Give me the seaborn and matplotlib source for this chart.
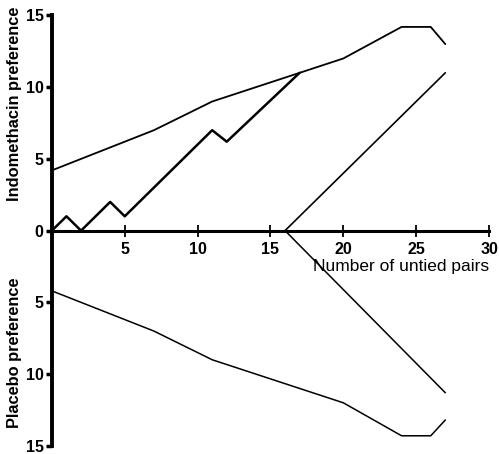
import numpy as np
import pandas as pd
import matplotlib
matplotlib.use("Agg")
import matplotlib.pyplot as plt
import seaborn as sns

# boundaries of the sequential design
bound_x = [0, 2, 7, 11, 17, 20, 24, 26, 27]
upper_y = [4.2, 5.0, 7, 9, 11, 12, 14.2, 14.2, 13]
lower_y = [-4.2, -5.0, -7, -9, -11, -12, -14.3, -14.3, -13.2]

# inner (no-difference) boundaries
inner_x = [16, 27]
inner_up = [0, 11]
inner_down = [0, -11.3]

# observed path of preferences
path_x = [0, 1, 2, 4, 5, 11, 12, 17]
path_y = [0, 1, 0, 2, 1, 7, 6.2, 11]

xticks = [5, 10, 15, 20, 25, 30]
yticks = [-10, -5, 0, 5, 10]

sns.set_theme(style="white")
plt.rcParams['font.family'] = ['Liberation Sans', 'DejaVu Sans']
plt.rcParams['text.color'] = 'black'
plt.rcParams['xtick.color'] = 'black'
plt.rcParams['ytick.color'] = 'black'
plt.rcParams['axes.edgecolor'] = 'black'

fig = plt.figure(figsize=(4.99, 4.54), dpi=100)
ax = fig.add_axes([0.104, 0.018, 0.876, 0.948])

def line(x, y, lw):
    d = pd.DataFrame({"x": x, "y": y})
    sns.lineplot(data=d, x="x", y="y", sort=False, color="black",
                 linewidth=lw, ax=ax, clip_on=False)

line(bound_x, upper_y, 1.3)
line(bound_x, lower_y, 1.1)
line(inner_x, inner_up, 1.2)
line(inner_x, inner_down, 1.1)
line(path_x, path_y, 1.8)

ax.set_xlim(0, 30)
ax.set_ylim(-15, 15)

for s in ["top", "right"]:
    ax.spines[s].set_visible(False)
ax.spines["bottom"].set_position(("data", 0))
ax.spines["bottom"].set_linewidth(2.2)
ax.spines["left"].set_linewidth(2.8)
ax.spines["left"].set_bounds(-15, 15)
ax.spines["bottom"].set_bounds(0, 30)

ax.set_xticks(xticks)
ax.set_xticklabels([str(t) for t in xticks], fontsize=11.5, fontweight="bold")
ax.tick_params(axis="x", direction="inout", length=8, width=1.3, pad=4,
               bottom=True)
ax.set_yticks([-15] + yticks + [15])
ax.set_yticklabels([str(abs(t)) for t in [-15] + yticks + [15]],
                   fontsize=11.5, fontweight="bold")
ax.tick_params(axis="y", direction="out", length=4, width=2.5, pad=2, left=True)
ax.set_yticks([-15, 15], minor=True)
ax.tick_params(axis="y", which="minor", direction="in", length=6, width=2.5, left=True)

ax.set_xlabel("")
ax.set_ylabel("")
ax.text(30, -2.0, "Number of untied pairs", ha="right", va="top",
        fontsize=12.5)

fig.text(0.03, 0.772, "Indomethacin preference", rotation=90, ha="center",
         va="center", fontsize=11.8, fontweight="bold")
fig.text(0.03, 0.222, "Placebo preference", rotation=90, ha="center",
         va="center", fontsize=11.8, fontweight="bold")

fig.savefig("out.png", dpi=100)
